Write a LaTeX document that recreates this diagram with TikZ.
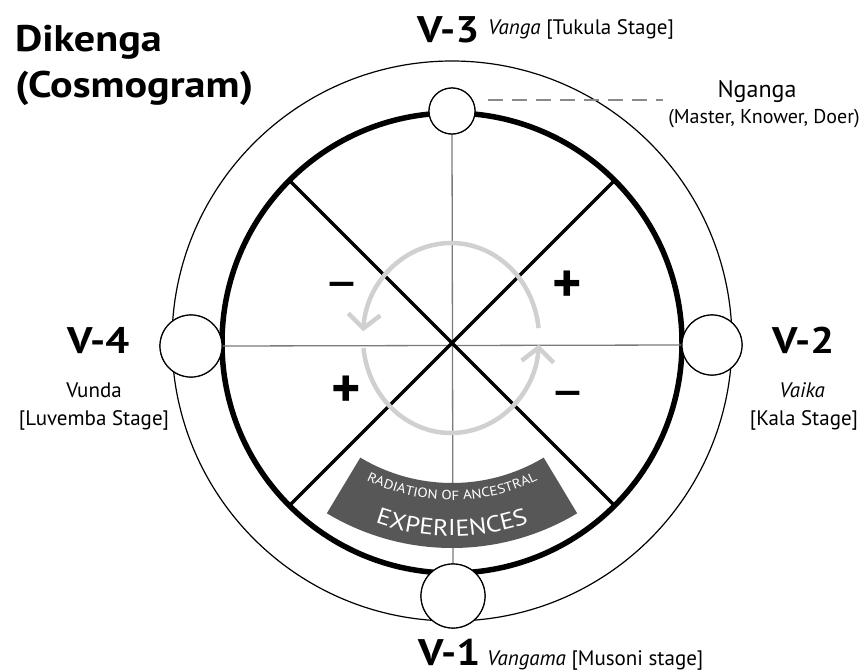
\documentclass[tikz,border=0pt]{standalone}
\usepackage{fontspec}
\setmainfont{PT Sans}
\newfontfamily\widefont[FakeStretch=1.14]{PT Sans}
\usetikzlibrary{arrows.meta,decorations.text,calc}
\definecolor{ringgray}{HTML}{D0D0D0}
\definecolor{bannergray}{HTML}{575757}
\definecolor{axisgray}{HTML}{7A7A7A}
\definecolor{dashgray}{HTML}{8A8A8A}
\begin{document}
\begin{tikzpicture}[x=1pt,y=-1pt,
  txt/.style={inner sep=0pt, outer sep=0pt},
  vlab/.style={txt, font=\widefont\fontsize{37}{37}\selectfont\bfseries, anchor=base west},
  titlelab/.style={txt, font=\widefont\fontsize{37}{37}\selectfont\bfseries, anchor=base west},
  stage/.style={txt, font=\fontsize{21}{21}\selectfont},
  smalllab/.style={txt, font=\fontsize{24}{24}\selectfont, anchor=base},
  signlab/.style={txt, font=\fontsize{56}{56}\selectfont, anchor=base},
  station/.style={circle, draw=black, fill=white, line width=1.2pt, inner sep=0pt, outer sep=0pt},
  axisline/.style={draw=axisgray, line width=1.3pt},
  diag/.style={draw=black, line width=3.2pt},
  ringarrow/.style={draw=ringgray, line width=4.5pt, -{Straight Barb[length=14pt,width=32pt]}},
  dashline/.style={draw=dashgray, line width=1.3pt, dash pattern=on 15pt off 9pt},
]
\useasboundingbox (0,0) rectangle (865,672);
\coordinate (C) at (452,343);
\coordinate (O) at (452,341);
\coordinate (B) at (452,305);
\coordinate (G) at (451,338);

% outer thin circle and thick circle
\draw[line width=1.2pt] (O) circle[radius=280];
\draw[line width=5.5pt] (C) circle[radius=230];

% station circles (nodes)
\node[station, minimum size=46pt] (top) at (452,111) {};
\node[station, minimum size=62pt] (left) at (191,346) {};
\node[station, minimum size=60pt] (right) at (712,345) {};
\node[station, minimum size=64pt] (bot) at (453,596) {};

% axes
\path[axisline] (top.south) -- (bot.north);
\path[axisline] (left.east) -- (right.west);

% diagonals
\coordinate (d1) at ($(C)+(-135:230)$);
\coordinate (d2) at ($(C)+(45:230)$);
\coordinate (d3) at ($(C)+(-45:230)$);
\coordinate (d4) at ($(C)+(135:230)$);
\path[diag] (d1) -- (d2);
\path[diag] (d3) -- (d4);

% banner
\fill[bannergray] ($(B)+(59:178)$) arc[start angle=59,end angle=121,radius=178]
  -- ($(B)+(121:243)$) arc[start angle=121,end angle=59,radius=243] -- cycle;
\path[decorate, decoration={text along path, text align=center, text color=white,
  text={|\widefont\fontsize{13.2}{13.2}\selectfont|RADIATION OF ANCESTRAL}}]
  ($(B)+(125:195)$) arc[start angle=125,end angle=55,radius=195];
\path[decorate, decoration={text along path, text align=center, text color=white,
  text={|\widefont\fontsize{23}{23}\selectfont|EXPERIENCES}}]
  ($(B)+(125:231)$) arc[start angle=125,end angle=55,radius=231];

% gray cycle arrows
\draw[ringarrow] ($(G)+({88*cos(-6)},{95*sin(-6)})$) arc[start angle=-6,end angle=-176,x radius=88,y radius=95];
\draw[ringarrow] ($(G)+({88*cos(174)},{95*sin(174)})$) arc[start angle=174,end angle=4,x radius=88,y radius=95];

% redraw station circles on top
\node[station, minimum size=46pt] at (top) {};
\node[station, minimum size=62pt] at (left) {};
\node[station, minimum size=60pt] at (right) {};
\node[station, minimum size=64pt] at (bot) {};

% signs
\node[signlab] (mUL) at (342,300) {–};
\node[signlab, font=\fontsize{56}{56}\selectfont\bfseries] (pUR) at (567,302) {+};
\node[signlab, font=\fontsize{56}{56}\selectfont\bfseries] (pLL) at (346,407) {+};
\node[signlab] (mLR) at (568,409) {–};

% title
\node[titlelab] (t1) at (15,51) {Dikenga};
\node[titlelab] (t2) at (15,97) {(Cosmogram)};

% stage labels
\node[vlab] (v3) at (417,42) {V-3};
\node[stage, anchor=base west] (v3t) at (488,34) {\textit{Vanga} [Tukula Stage]};
\node[vlab] (v4) at (67,353) {V-4};
\node[stage, anchor=base] (v4a) at (94,397) {Vunda};
\node[stage, anchor=base] (v4b) at (94,425) {[Luvemba Stage]};
\node[vlab] (v2) at (772,353) {V-2};
\node[stage, anchor=base] (v2a) at (802,397) {\textit{Vaika}};
\node[stage, anchor=base] (v2b) at (804,425) {[Kala Stage]};
\node[vlab] (v1) at (418,665) {V-1};
\node[stage, anchor=base west] (v1t) at (487,665) {\textit{Vangama} [Musoni stage]};

% Nganga
\node[smalllab] (ng) at (757,97) {Nganga};
\node[smalllab, font=\fontsize{20}{20}\selectfont] (ngm) at (764,123) {(Master, Knower, Doer)};
\coordinate (dA) at (488,100);
\coordinate (dB) at (663,100);
\path[dashline] (dA) -- (dB);
\end{tikzpicture}
\end{document}
